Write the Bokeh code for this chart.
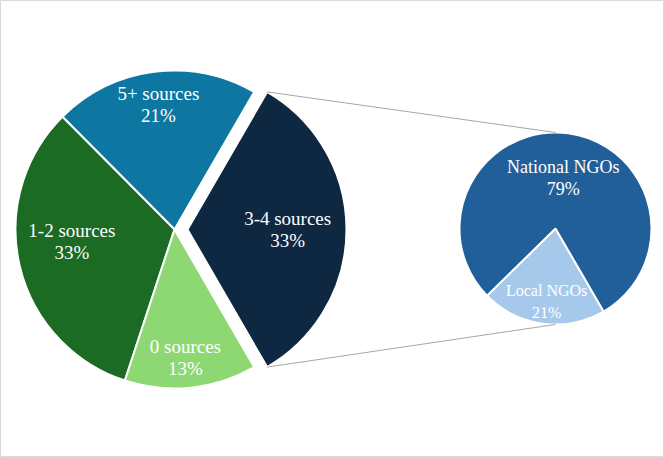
import numpy as np
from bokeh.plotting import figure
from bokeh.models import Range1d, ColumnDataSource
from bokeh.embed import file_html
from bokeh.resources import INLINE
from bokeh.core.properties import value

# ---- data ----
main_labels = ["3-4 sources", "5+ sources", "1-2 sources", "0 sources"]
main_values = [33.3, 20.8, 32.5, 13.4]          # shares
main_pct = ["33%", "21%", "33%", "13%"]         # labels as printed
main_colors = ["#0E2841", "#0E77A1", "#1B6B24", "#8ED874"]

sub_labels = ["Local NGOs", "National NGOs"]
sub_values = [21, 79]
sub_pct = ["21%", "79%"]
sub_colors = ["#A6C9EB", "#215F9A"]

# ---- layout ----
W, H = 664, 457
main_cx, main_cy, main_r = 174, H - 229, 159
explode = 13
sub_cx, sub_cy, sub_r = 555, H - 228, 96
sub_start_deg = 224.5
main_label_r = [0.63, 0.79, 0.65, 0.81]
main_label_shift = [0.0, 0.0, -6.6, -1.1]
sub_label_r = [0.77, 0.53]
sub_label_shift = [0.8, -1.0]
main_font = "19px"
sub_fonts = ["16px", "18px"]
FONT = "Liberation Serif"

p = figure(width=W, height=H, x_range=Range1d(0, W), y_range=Range1d(0, H),
           output_backend="svg", toolbar_location=None, min_border=0)
p.axis.visible = False
p.grid.visible = False
p.outline_line_color = "#d9d9d9"
p.outline_line_width = 1
p.background_fill_color = "white"
p.border_fill_color = "white"

# main pie
vals = np.array(main_values, dtype=float)
fr = vals / vals.sum() * 2 * np.pi
starts = -fr[0] / 2 + np.concatenate([[0], np.cumsum(fr)[:-1]])
ends = starts + fr
mids = (starts + ends) / 2
xs = np.full(len(vals), float(main_cx))
ys = np.full(len(vals), float(main_cy))
xs[0] += explode * np.cos(mids[0])
ys[0] += explode * np.sin(mids[0])

src = ColumnDataSource(dict(x=xs, y=ys, s=starts, e=ends, c=main_colors))
p.wedge(x="x", y="y", radius=main_r, start_angle="s", end_angle="e",
        fill_color="c", line_color="white", line_width=2, source=src)

# sub pie
sv = np.array(sub_values, dtype=float)
sfr = sv / sv.sum() * 2 * np.pi
sstarts = np.deg2rad(sub_start_deg) + np.concatenate([[0], np.cumsum(sfr)[:-1]])
sends = sstarts + sfr
smids = (sstarts + sends) / 2
ssrc = ColumnDataSource(dict(x=[sub_cx] * 2, y=[sub_cy] * 2, s=sstarts, e=sends, c=sub_colors))
p.wedge(x="x", y="y", radius=sub_r, start_angle="s", end_angle="e",
        fill_color="c", line_color="white", line_width=2, source=ssrc)

# connector lines
tx0 = xs[0] + main_r * np.cos(ends[0])
ty0 = ys[0] + main_r * np.sin(ends[0])
tx1 = xs[0] + main_r * np.cos(starts[0])
ty1 = ys[0] + main_r * np.sin(starts[0])
p.segment(x0=[tx0, tx1], y0=[ty0, ty1], x1=[sub_cx, sub_cx],
          y1=[sub_cy + sub_r, sub_cy - sub_r], line_color="#a6a6a6", line_width=1)

# labels
def add_labels(cx, cy, r, mids_, rf, shift, names, pcts, fonts):
    for i, name in enumerate(names):
        a = mids_[i] + np.deg2rad(shift[i])
        lx = cx[i] + rf[i] * r * np.cos(a)
        ly = cy[i] + rf[i] * r * np.sin(a)
        p.text(x=[lx, lx], y=[ly + 11, ly - 11], text=[name, pcts[i]],
               text_align="center", text_baseline="middle", text_color="white",
               text_font=value(FONT), text_font_size=fonts[i])

add_labels(xs, ys, main_r, mids, main_label_r, main_label_shift, main_labels, main_pct,
           [main_font] * 4)
add_labels([sub_cx] * 2, [sub_cy] * 2, sub_r, smids, sub_label_r, sub_label_shift,
           sub_labels, sub_pct, sub_fonts)

open("out.html", "w").write(file_html(p, INLINE))
